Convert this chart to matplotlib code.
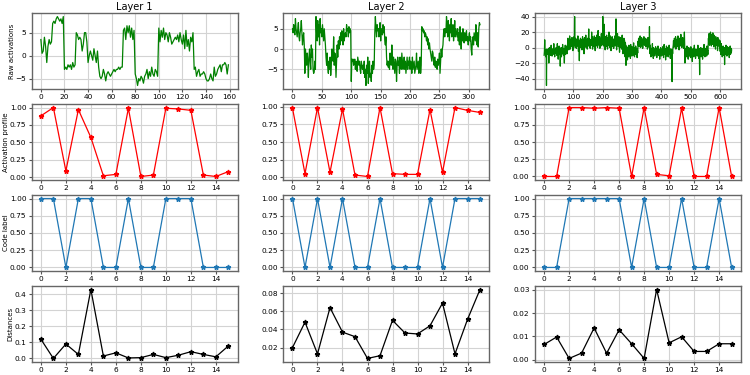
import numpy as np
import matplotlib
matplotlib.use("Agg")
import matplotlib.pyplot as plt

layer_titles = ["Layer 1", "Layer 2", "Layer 3"]
row_labels = ["Raw activations", "Activation profile", "Code label", "Distances"]

raw1 = [3.5, 0.5, 1, 4, 2, -1.5, 2, 3.5, 2.5, 3,
        7, 7.5, 7, 8, 8.5, 8, 7.5, 8, 7, 8.5,
        -3, -2.5, -3, -2, -2.5, -2, -3, -1.5, -2.5, -2,
        5, 4.5, 3.5, 4, 3.5, 1, 2.5, 5, 5, 3,
        -1.5, 0, 1, 0, -1, 1.5, 0, -1.5, 1, -2.5,
        -4.5, -5, -4.5, -3, -4, -5.5, -4, -3.5, -4, -4.5,
        -4, -3.5, -3, -3.5, -3, -3, -2.5, -3, -2.5, -2.5,
        5.5, 6, 3.5, 6.5, 5, 6.5, 4, 6, 3.5, 5.5,
        -4, -5, -6.5, -5, -5.5, -4.5, -5, -6, -4.5, -4,
        -3, -5, -3.5, -4.5, -2.5, -4, -4.5, -3, -3.5, -4.5,
        6, 3, 5.5, 4, 6, 3.5, 5, 4.5, 3, 5,
        4, 2.5, 3, 3.5, 4, 3.5, 4.5, 3, 5, 3.5,
        2.5, 4.5, 1.5, 5.5, 2, 3.5, 1, 4, 3, 5,
        -3, -2.5, -4.5, -3.5, -3, -4.5, -4, -4, -3.5, -4,
        -5, -5.5, -5.5, -5, -4, -5, -5.5, -2.5, -4.5, -4,
        -3, -2.5, -2, -3.5, -2, -2, -1.5, -2, -4, -2]

raw2 = [5, 4, 6, 4.5, 3.5, 7.5, 5, 4, 3, 5, 6.5, 3, 2, 4, 5, 7, 4, 1, 3, 4,
        1, -6, 0, -2, -4, -1, -3, -7, -2, 0, -3, -5, 1, -2, 0, -5, -6, -5.5, -3, -5,
        8, 4, 2, 7, 3, 6, 1, 7.5, 4, 5, 3, 6, 4, 2, 5, 3, 1, -2, -4, -1,
        -4.5, -6, -3, -5, -2, -6.5, -4, 0, -2, -3, 3, -4, -1, -2, -7, -3, 1, -2, 2, 0,
        3, 1, 4, 2, 4.5, 3, 1, 5, 2, 3.5, 4, 3, 6, 4.5, 5, 3, 5.5, 4, 5, 4.5,
        -8, -2.5, -3, -2.5, -4, -3, -2.5, -5, -3, -4, -5.5, -2, -3, -4, -3, -5, -6, -3, -4, -5,
        -4, -6, -3, -7, -5, -9, -4, -6, -2, -8.5, -5, -3, -7, -6, -8, -4, -6, -3, -5, -4,
        4, 8, 5, 3, 6, 4.5, 5, 3, 4, 6.5, 2, 5, 4, 3.5, 6, 4, 5.5, 2, 1, 3,
        -2, -4, -3, -4.5, -3, -5, -1, -3.5, -4, 1, -3, -5, -2, -4, -6, -2.5, -3, -8, -4, -2,
        -4, -3, -6, -2, -4, -5, -1, -3, -5, -4, -2, -5, -3, -6, -4, -2, -5, -3, -4, -2,
        -5, -3, -4, -6, -2, -5, -4, -3, -6, -5, -4, -1, -5, -4, -3, -6, -5, -2, -6, -4,
        5.5, 4.5, 5, 4, 4.5, 3, 4, 3.5, 2, 3, 1, 2.5, 0, 1.5, 0, -1, -2, -3, -0.5, -1,
        -3, -4, -2, -4.5, -3, -3.5, -5, -2.5, -4, -3, -1, -6, -3, 0, -2, 0, 1, 4, 5, 3,
        5, 4, 8, 6, 3, 7, 5, 2, 6, 4, 7.5, 3, 5, 6, 2, 4, 7, 3, 5, 4,
        3, 5, 2, 4, 1, 5.5, 3, 0, 4, 2, 5, 3, 1.5, 4, 2, 3.5, 4.5, 2, 3, 1,
        3, 4, 2, 3, 0, -1.5, 2, 3, 1, 4, 3, 2, 6, 3, 1, 4, 0.5, 5, 6.5, 6]

raw3 = [-10, -5, 10, -8, -3, -6, -12, -4, -49, -2, -7, -5, -3, -9, -6, -1, -20, -4, -8, 0, -5, -3, -10, -6, 3, -7, -2, -11, -5, -4, -8, -1, -6, 5, -9, -3, -12, -5, -2, -7,
        -6, 0, -4, -10, -2, 5, -8, -3, -15, -1, -6, 2, -5, -9, -4, -24, -3, -7, 0, -12, -5, -2, -8, 4, -6, -1, -10, -3, -7, -20, -2, -5, 3, -9, -4, -1, -6, 2, -8, -3,
        5, 12, 0, 8, -3, 10, 3, 15, 6, -2, 9, 4, 11, 1, 7, 13, 2, 8, -4, 6, 10, 3, 14, 5, 40, 7, 0, 12, 4, 9, -1, 6, 11, 2, 8, 15, 3, -5, 10, 4,
        -17, 6, 2, 9, 12, 0, 7, 4, 10, -3, 8, 14, 1, 6, 11, 3, -8, 9, 5, 13, 2, 7, 16, 0, 10, 4, 8, -2, 12, 6, 3, 9, 24, 5, 1, 11, 7, -1, 8, 4,
        10, 3, 20, 6, 14, -2, 9, 5, 12, 8, 1, 15, 7, 11, -4, 6, 13, 2, 9, 16, 4, 10, 0, 8, 22, 5, 12, 3, 7, 14, -1, 9, 6, 11, 2, 18, 8, 4, 13, 6,
        40, 8, 2, 12, 6, 30, 4, 10, -3, 14, 7, 1, 9, 16, 5, 11, -2, 8, 13, 3, 6, 20, 9, 0, 12, 5, 15, 7, -4, 10, 3, 8, 14, 1, 9, 6, 11, -1, 7, 4,
        8, 15, 2, 11, 5, 37, 9, -3, 12, 6, 18, 4, 10, 1, 7, 14, 3, -6, 9, 5, 13, 0, 8, 11, -2, 6, 16, 4, 10, -8, 7, 3, 12, -1, 9, 5, -12, 6, 2, -23,
        -5, 2, -10, -3, -16, 0, -7, -4, -12, 3, -6, -2, -9, -1, -14, 4, -8, -3, -5, -11, 1, -6, -2, -10, -4, 6, -7, -3, -12, 0, -5, -9, 2, -4, -8, -1, -6, -13, -3, -7,
        8, 3, 12, 6, 1, 10, 4, 15, 7, 0, 9, 5, 13, 2, 8, 11, -1, 6, 10, 4, 14, 7, 3, 9, 5, 12, 1, 8, 6, 11, 2, 10, -2, 7, 13, 4, 9, 5, 0, 27,
        -2, -8, 3, -5, -12, -1, -7, -4, -10, 5, -6, -3, -14, 0, -9, -5, -2, -11, -4, -7, 1, -8, -3, -6, -13, -1, -5, -9, 2, -4, -10, -6, -2, -8, -15, -3, -7, 0, -5, -11,
        -6, -2, -10, -4, 1, -8, -5, -13, -3, 4, -7, -1, -9, -5, -16, -2, -6, 2, -11, -4, -8, 0, -5, -12, -3, -7, 3, -9, -1, -6, -14, -4, -10, -2, -7, -5, -44, -3, -8, 0,
        3, 9, 0, 7, 12, 2, 8, 5, 14, -2, 10, 4, 6, 11, 1, 8, 15, 3, 9, 6, -3, 12, 5, 7, 2, 10, 17, 4, 8, 0, 11, 6, 13, 3, 9, -1, 7, 5, 20, 4,
        -20, -3, -10, -1, -7, -4, -12, 2, -6, -9, -3, -15, -5, 0, -8, -2, -11, -6, -4, -13, 1, -7, -3, -10, -5, -18, -2, -8, -4, -1, -12, -6, 3, -9, -5, -2, -14, -7, -3, -10,
        -6, -2, -11, -4, 3, -8, -5, -14, -1, -7, -35, -3, -9, -5, 0, -12, -6, -2, -8, -4, -15, -1, -7, -10, -3, 4, -9, -5, -12, -2, -6, -1, -8, -4, -11, 2, -6, -3, -9, 0,
        12, 5, 18, 8, 3, 15, 10, 20, 6, 13, 2, 17, 9, 4, 14, 19, 7, 11, 1, 16, 8, 12, 5, 10, -2, 14, 6, 9, 3, 11, 7, -4, 13, 5, 8, 2, 10, 6, -1, 9,
        -5, 0, -9, -2, 5, -7, -3, -12, -1, -6, 2, -10, -4, -8, 0, -22, -3, -6, -1, -9, 3, -5, -2, -11, -4, 1, -7, -3, -8, 0, -6, -13, -2, -4, 2, -9, -5, -1, -7, -3]

profile1 = [0.88, 1.0, 0.09, 0.97, 0.57, 0.02, 0.04, 0.99, 0.01, 0.03, 0.99, 0.98, 0.96, 0.03, 0.01, 0.08]
profile2 = [0.98, 0.05, 0.99, 0.07, 0.97, 0.03, 0.01, 0.99, 0.05, 0.04, 0.04, 0.96, 0.07, 0.99, 0.95, 0.92]
profile3 = [0.0, 0.0, 1.0, 1.0, 0.99, 1.0, 0.99, 0.0, 1.0, 0.03, 0.01, 0.99, 0.0, 0.0, 1.0, 0.0]

code1 = [1, 1, 0, 1, 1, 0, 0, 1, 0, 0, 1, 1, 1, 0, 0, 0]
code2 = [1, 0, 1, 0, 1, 0, 0, 1, 0, 0, 0, 1, 0, 1, 1, 1]
code3 = [0, 0, 1, 1, 1, 1, 1, 0, 1, 0, 0, 1, 0, 0, 1, 0]

dist1 = [0.12, 0.0, 0.09, 0.025, 0.43, 0.015, 0.035, 0.003, 0.005, 0.025, 0.005, 0.02, 0.042, 0.025, 0.01, 0.078]
dist2 = [0.020, 0.048, 0.013, 0.064, 0.037, 0.032, 0.008, 0.011, 0.050, 0.036, 0.035, 0.044, 0.069, 0.013, 0.051, 0.084]
dist3 = [0.0065, 0.0097, 0.0005, 0.0028, 0.0136, 0.0027, 0.0128, 0.0068, 0.0005, 0.0301, 0.0072, 0.0098, 0.0035, 0.0035, 0.0068, 0.0068]

raws = [raw1, raw2, raw3]
profiles = [profile1, profile2, profile3]
codes = [code1, code2, code3]
dists = [dist1, dist2, dist3]

raw_xticks = [np.arange(0, 161, 20), np.arange(0, 301, 50), np.arange(0, 601, 100)]
raw_yticks = [[-5, 0, 5], [-5, 0, 5], [-40, -20, 0, 20, 40]]
dist_yticks = [[0.0, 0.1, 0.2, 0.3, 0.4], [0.02, 0.04, 0.06, 0.08], [0.0, 0.01, 0.02, 0.03]]
dist_fmt = ["%.1f", "%.2f", "%.2f"]

fig, axes = plt.subplots(4, 3, figsize=(7.5, 3.75), dpi=100)
fig.subplots_adjust(left=0.042, right=0.988, top=0.965, bottom=0.035, wspace=0.22, hspace=0.2)

fs = 5.3
for c in range(3):
    col = axes[:, c]
    col[0].plot(np.arange(len(raws[c])), raws[c], color="green", lw=0.9)
    col[0].set_title(layer_titles[c], fontsize=7, pad=2)
    col[0].set_xticks(raw_xticks[c])
    col[0].set_yticks(raw_yticks[c])
    idx = np.arange(16)
    col[1].plot(idx, profiles[c], color="red", marker="*", ms=3.5, lw=0.9)
    col[2].plot(idx, codes[c], color="#1f77b4", marker="*", ms=3.5, lw=0.9)
    col[3].plot(idx, dists[c], color="black", marker="*", ms=3.5, lw=0.9)
    for ax in col[1:3]:
        ax.set_yticks([0, 0.25, 0.5, 0.75, 1.0])
        ax.yaxis.set_major_formatter(matplotlib.ticker.FormatStrFormatter("%.2f"))
    col[3].set_yticks(dist_yticks[c])
    col[3].yaxis.set_major_formatter(matplotlib.ticker.FormatStrFormatter(dist_fmt[c]))
    for ax in col[1:]:
        ax.set_xticks(np.arange(0, 16, 2))
    for ax in col:
        ax.grid(True, color="#d3d3d3", lw=0.8)
        ax.set_axisbelow(True)
        ax.tick_params(labelsize=fs, length=2.5, pad=1.2, color="#555555")
        for s in ax.spines.values():
            s.set_color("#666666")
            s.set_linewidth(1.0)

for r in range(4):
    axes[r, 0].set_ylabel(row_labels[r], fontsize=5.0, labelpad=0.5)

fig.savefig("out.png", dpi=100)
